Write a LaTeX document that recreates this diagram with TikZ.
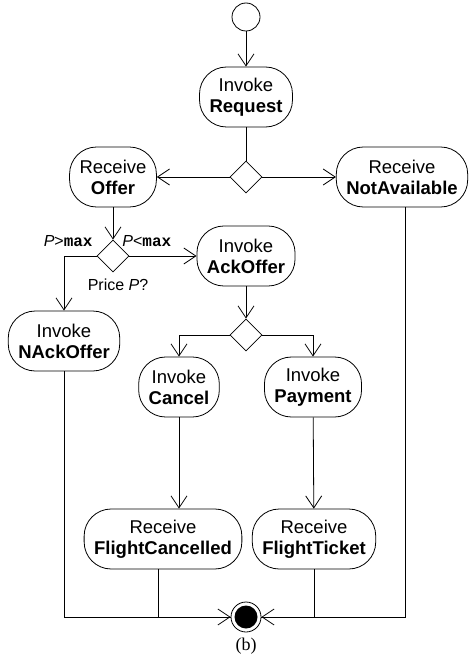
\documentclass[tikz,border=0pt]{standalone}
\usepackage{fontspec}
\setmainfont{Liberation Sans}
\setmonofont{Liberation Mono}
\newfontfamily\captionfont{Liberation Serif}
\usetikzlibrary{arrows.meta,shapes.geometric}

\begin{document}
\begin{tikzpicture}[x=1pt,y=-1pt,line width=0.8pt,
  action/.style={draw,rounded corners=27pt,minimum height=60pt,inner xsep=10pt,align=center,font=\fontsize{18.5}{21}\selectfont},
  choice/.style={draw,diamond,minimum width=32pt,minimum height=32pt,inner sep=0pt},
  initial/.style={draw,circle,minimum size=28pt,inner sep=0pt},
  final/.style={draw,circle,minimum size=30pt,inner sep=0pt,
    path picture={\fill[black] (path picture bounding box.center) circle (11.5pt);}},
  flow/.style={-{Straight Barb[length=12pt,width=16pt]}},
  guard/.style={font=\fontsize{16}{18}\selectfont,inner sep=0pt}]
\useasboundingbox (0,0) rectangle (469,666);

% nodes
\node[initial] (start) at (246,17) {};
\node[action] (req) at (246,97) {Invoke\\\textbf{Request}};
\node[choice] (d1) at (246,177) {};
\node[action] (offer) at (113,177) {Receive\\\textbf{Offer}};
\node[action] (na) at (402,177) {Receive\\\textbf{NotAvailable}};
\node[choice] (d2) at (113,256) {};
\node[action] (ack) at (246,256) {Invoke\\\textbf{AckOffer}};
\node[action] (nack) at (64,341) {Invoke\\\textbf{NAckOffer}};
\node[choice] (d3) at (246,335) {};
\node[action] (cancel) at (179,387) {Invoke\\\textbf{Cancel}};
\node[action] (pay) at (313,387) {Invoke\\\textbf{Payment}};
\node[action] (fc) at (163,539) {Receive\\\textbf{FlightCancelled}};
\node[action] (ft) at (314,539) {Receive\\\textbf{FlightTicket}};
\node[final] (end) at (246,617) {};

% guards
\node[guard,anchor=east] (gt) at (93,241) {\textit{P}>\texttt{\bfseries max}};
\node[guard,anchor=west] (lt) at (122,241) {\textit{P}<\texttt{\bfseries max}};
\node[guard] (price) at (118,285) {Price \textit{P}?};

% flows
\draw[flow] (start) -- (req);
\draw (req) -- (d1);
\draw[flow] (d1) -- (offer);
\draw[flow] (d1) -- (na);
\draw[flow] (offer) -- (d2);
\draw[flow] (d2.west) -| (nack.north);
\draw[flow] (d2) -- (ack);
\draw[flow] (ack) -- (d3);
\draw[flow] (d3.west) -| (cancel.north);
\draw[flow] (d3.east) -| (pay.north);
\draw[flow] (cancel) -- (cancel |- fc.north);
\draw[flow] (pay) -- (ft);
\draw[flow] (nack) |- (end);
\draw ([xshift=-5pt]fc.south) |- (end);
\draw[flow] ([xshift=3pt]na.south) |- (end);
\draw (ft) |- (end);

\node[font=\captionfont\fontsize{18}{20}\selectfont] (cap) at (246,646) {(b)};
\end{tikzpicture}
\end{document}
